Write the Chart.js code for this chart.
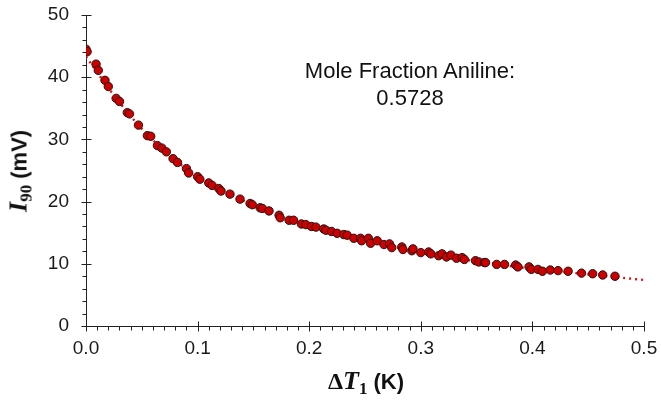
<!DOCTYPE html>
<html lang="en">
<head>
  <meta charset="UTF-8" />
  <title>I90 vs dT1</title>
  <script src="https://cdn.jsdelivr.net/npm/chart.js"></script>
  <style>
    body { margin: 0; background: #fff; }
    #wrap { position: relative; width: 661px; height: 401px; }
    #chart { position: absolute; left: 0; top: 0; }
    .lbl { position: absolute; white-space: nowrap; color: #111; font-family: "Liberation Sans", Arial, sans-serif; }
    .ttl { font-weight: bold; font-size: 22px; transform: translate(-50%, -50%); }
    .ttl .sym { font-family: "Liberation Serif", "Times New Roman", serif; font-style: italic; font-size: 26px; }
    .ttl .dl { font-family: "Liberation Serif", "Times New Roman", serif; font-size: 24px; }
    .ttl sub { font-family: "Liberation Serif", "Times New Roman", serif; font-size: 17px; vertical-align: -5px; }
    #ytitle { left: 20px; top: 171px; transform: translate(-50%, -50%) rotate(-90deg); }
    #xtitle { left: 366px; top: 382px; }
    #note { left: 410px; top: 84px; transform: translate(-50%, -50%); font-size: 22px; text-align: center; line-height: 27px; }
  </style>
</head>
<body>
<div id="wrap">
  <canvas id="chart" width="661" height="401"></canvas>
  <div class="lbl ttl" id="ytitle"><span class="sym">I</span><sub>90</sub> (mV)</div>
  <div class="lbl ttl" id="xtitle"><span class="dl">Δ</span><span class="sym">T</span><sub>1</sub> (K)</div>
  <div class="lbl" id="note">Mole Fraction Aniline:<br>0.5728</div>
</div>

<script>
  const dtK = [0.000, 0.001, 0.009, 0.011, 0.017, 0.020, 0.027, 0.030, 0.037, 0.039,
    0.047, 0.055, 0.058, 0.064, 0.068, 0.072, 0.078, 0.082, 0.090, 0.092,
    0.100, 0.102, 0.110, 0.113, 0.119, 0.121, 0.129, 0.138, 0.147, 0.149,
    0.156, 0.158, 0.164, 0.173, 0.174, 0.182, 0.186, 0.193, 0.197, 0.202,
    0.206, 0.213, 0.215, 0.220, 0.225, 0.231, 0.234, 0.240, 0.246, 0.247,
    0.253, 0.255, 0.261, 0.267, 0.272, 0.274, 0.283, 0.284, 0.292, 0.293,
    0.300, 0.307, 0.309, 0.316, 0.319, 0.323, 0.327, 0.332, 0.337, 0.339,
    0.349, 0.352, 0.357, 0.358, 0.368, 0.375, 0.385, 0.387, 0.397, 0.399,
    0.405, 0.409, 0.416, 0.423, 0.432, 0.444, 0.454, 0.463, 0.474];
  const i90 = [44.5, 44.1, 42.1, 41.1, 39.5, 38.5, 36.6, 36.1, 34.3, 34.1,
    32.3, 30.6, 30.5, 29.0, 28.6, 28.0, 26.9, 26.3, 25.3, 24.6,
    24.0, 23.6, 23.0, 22.6, 22.1, 21.7, 21.2, 20.4, 19.7, 19.5,
    19.0, 18.9, 18.5, 17.8, 17.4, 17.0, 17.0, 16.4, 16.3, 16.0,
    15.9, 15.6, 15.4, 15.2, 14.9, 14.7, 14.6, 14.1, 14.1, 13.7,
    14.1, 13.3, 13.7, 13.1, 13.2, 12.6, 12.7, 12.3, 12.1, 12.4,
    11.8, 11.9, 11.6, 11.3, 11.6, 11.1, 11.4, 10.9, 11.0, 10.7,
    10.5, 10.3, 10.2, 10.2, 9.9, 9.9, 9.8, 9.5, 9.5, 9.1,
    9.1, 8.8, 9.0, 8.9, 8.8, 8.5, 8.4, 8.2, 8.0];

  // fitted curve (dotted)
  const fitDt = [0, 0.025, 0.05, 0.075, 0.1, 0.125, 0.15, 0.175, 0.2, 0.25, 0.3, 0.35, 0.4, 0.45, 0.5];
  const fitI90 = [43.3, 37.1, 31.7, 27.4, 24.0, 21.5, 19.4, 17.5, 16.1, 13.8, 11.8, 10.4, 9.2, 8.3, 7.4];

  const xTicks = [0, 0.1, 0.2, 0.3, 0.4, 0.5];
  const yTicks = [0, 10, 20, 30, 40, 50];

  // axis lines with crossing major ticks and outside minor ticks
  const axesPlugin = {
    id: 'axes',
    beforeDatasetsDraw(chart) {
      const { ctx, chartArea: a, scales: { x, y } } = chart;
      const x0 = Math.round(a.left) + 0.5;
      const y0 = Math.round(a.bottom) + 0.5;
      ctx.save();
      ctx.strokeStyle = '#222';
      ctx.lineWidth = 1;
      ctx.beginPath();
      ctx.moveTo(x0, a.top);
      ctx.lineTo(x0, y0);
      ctx.lineTo(a.right, y0);
      for (let i = 0; i <= 50; i++) {
        const px = Math.round(x.getPixelForValue(i / 100)) + 0.5;
        if (i % 10 === 0) { ctx.moveTo(px, y0 - 5); ctx.lineTo(px, y0 + 5); }
        else { ctx.moveTo(px, y0); ctx.lineTo(px, y0 + 4); }
      }
      for (let v = 0; v <= 50; v += 2) {
        const py = Math.round(y.getPixelForValue(v)) + 0.5;
        if (v % 10 === 0) { ctx.moveTo(x0 - 5, py); ctx.lineTo(x0 + 5, py); }
        else { ctx.moveTo(x0 - 4, py); ctx.lineTo(x0, py); }
      }
      ctx.stroke();
      ctx.restore();
    }
  };

  const tickFont = { family: '"Liberation Sans", Arial, sans-serif', size: 19 };

  new Chart(document.getElementById('chart'), {
    type: 'scatter',
    data: {
      datasets: [{
        label: 'data',
        order: 0,
        data: dtK.map((v, i) => ({ x: v, y: i90[i] })),
        pointRadius: 4.2,
        pointBorderWidth: 1,
        pointBackgroundColor: '#cc0000',
        pointBorderColor: '#2a1010'
      }, {
        label: 'fit',
        order: 1,
        type: 'line',
        data: fitDt.map((v, i) => ({ x: v, y: fitI90[i] })),
        showLine: true,
        pointRadius: 0,
        borderColor: '#e01010',
        borderWidth: 2.4,
        borderDash: [2, 4],
        cubicInterpolationMode: 'monotone',
        fill: false
      }]
    },
    options: {
      responsive: false,
      animation: false,
      layout: { padding: { top: 15, right: 17, left: 0, bottom: 0 } },
      plugins: { legend: { display: false }, tooltip: { enabled: false } },
      scales: {
        x: {
          type: 'linear', min: 0, max: 0.5,
          afterBuildTicks: s => { s.ticks = xTicks.map(v => ({ value: v })); },
          afterFit: s => { s.height = 75; s.paddingLeft = 0; s.paddingRight = 0; },
          grid: { display: false, drawTicks: false },
          border: { display: false },
          ticks: { font: tickFont, color: '#1a1a1a', padding: 11, maxRotation: 0, callback: v => v.toFixed(1) }
        },
        y: {
          type: 'linear', min: 0, max: 50,
          afterBuildTicks: s => { s.ticks = yTicks.map(v => ({ value: v })); },
          afterFit: s => { s.width = 86; s.paddingTop = 0; s.paddingBottom = 0; },
          grid: { display: false, drawTicks: false },
          border: { display: false },
          ticks: { font: tickFont, color: '#1a1a1a', padding: 17, callback: v => v }
        }
      }
    },
    plugins: [axesPlugin]
  });
</script>
</body>
</html>
